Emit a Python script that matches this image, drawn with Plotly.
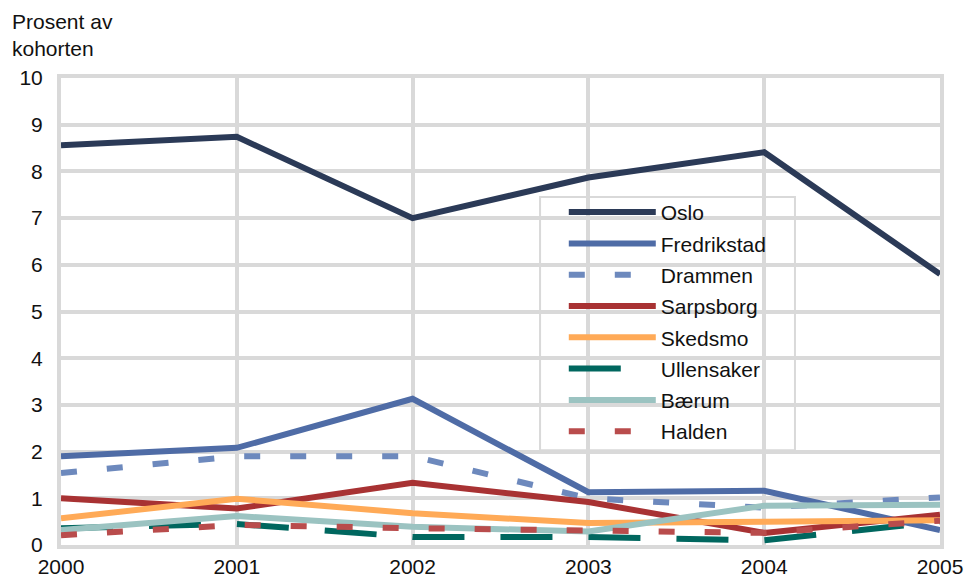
import plotly.graph_objects as go

years = [2000, 2001, 2002, 2003, 2004, 2005]

oslo = [8.56, 8.74, 7.0, 7.87, 8.41, 5.8]
fredrikstad = [1.9, 2.08, 3.13, 1.13, 1.16, 0.32]
drammen = [1.54, 1.9, 1.9, 1.0, 0.8, 1.02]
sarpsborg = [1.0, 0.78, 1.33, 0.92, 0.26, 0.65]
skedsmo = [0.57, 0.99, 0.68, 0.47, 0.5, 0.53]
ullensaker = [0.36, 0.45, 0.17, 0.17, 0.1, 0.5]
baerum = [0.32, 0.62, 0.39, 0.29, 0.84, 0.86]
halden = [0.21, 0.43, 0.36, 0.32, 0.26, 0.52]

y_ticks = list(range(0, 11))

series = [
    ("Oslo", oslo, "#2b3a57", "solid"),
    ("Fredrikstad", fredrikstad, "#4f6ca6", "solid"),
    ("Drammen", drammen, "#6d89bd", "16px,30px"),
    ("Sarpsborg", sarpsborg, "#a83233", "solid"),
    ("Skedsmo", skedsmo, "#ffaa57", "solid"),
    ("Ullensaker", ullensaker, "#00675f", "52px,36px"),
    ("Bærum", baerum, "#9bc3c1", "solid"),
    ("Halden", halden, "#b94c4c", "16px,30px"),
]

fig = go.Figure()
for name, vals, color, dash in series:
    fig.add_trace(go.Scatter(
        x=years, y=vals, name=name, mode="lines",
        legendgroup=name,
        line=dict(color=color, width=6, dash=dash),
    ))

grid = "#d9d9d9"

# legend frame drawn as a shape so the samples get some left padding
fig.add_shape(
    type="rect", xref="paper", yref="paper",
    x0=0.545, x1=0.835, y0=0.203, y1=0.745,
    fillcolor="white", line=dict(color=grid, width=2), layer="between",
)

fig.update_layout(
    width=967, height=579,
    margin=dict(l=61, r=27, t=78, b=34),
    paper_bgcolor="white",
    plot_bgcolor="white",
    font=dict(family="Liberation Sans, Arial, sans-serif", size=21, color="#111"),
    showlegend=True,
    legend=dict(
        x=0.572, y=0.756, xanchor="left", yanchor="top",
        bgcolor="rgba(0,0,0,0)", borderwidth=0,
        traceorder="grouped", tracegroupgap=1,
        itemwidth=87,
        font=dict(size=21),
    ),
    xaxis=dict(
        range=[2000, 2005], tickvals=years, ticktext=[str(y) for y in years],
        showgrid=True, gridcolor=grid, gridwidth=4,
        showline=True, linecolor=grid, linewidth=4, mirror=True,
        zeroline=False, ticks="", ticklen=0, automargin=False,
    ),
    yaxis=dict(
        range=[0, 10], tickvals=y_ticks,
        showgrid=True, gridcolor=grid, gridwidth=4,
        showline=True, linecolor=grid, linewidth=4, mirror=True,
        zeroline=False, ticks="outside", ticklen=10, tickcolor="white",
        automargin=False,
    ),
    annotations=[dict(
        text="Prosent av<br>kohorten", x=0, y=1, xref="paper", yref="paper",
        xshift=-51, yshift=16, xanchor="left", yanchor="bottom", align="left",
        showarrow=False, font=dict(size=21),
    )],
)

# drop the default 8px body margin so the figure fills the window
fig.write_html(
    "out.html",
    config={"displayModeBar": False},
    post_script="document.body.style.margin='0';document.body.style.overflow='hidden';",
)
